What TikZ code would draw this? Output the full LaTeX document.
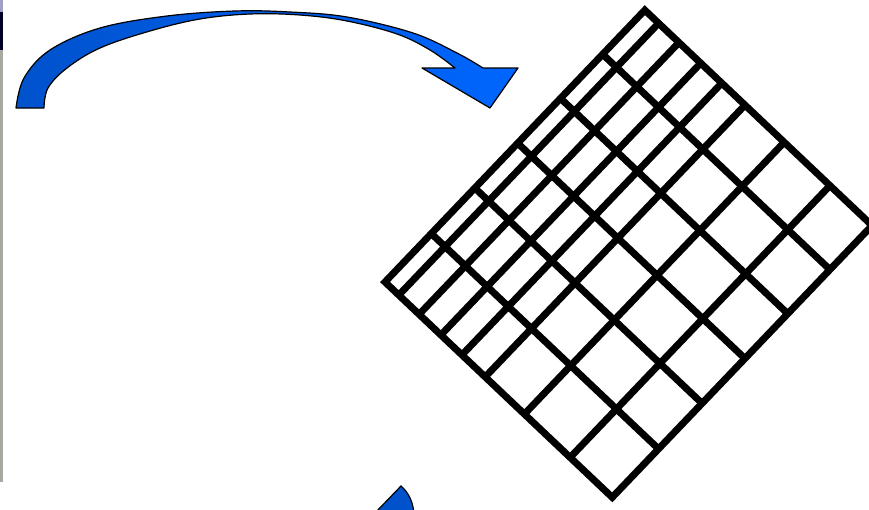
\documentclass[tikz,border=0pt]{standalone}
\usetikzlibrary{calc}
\definecolor{arrowL}{HTML}{0052CC}
\definecolor{arrowR}{HTML}{0066FF}
\definecolor{stripgray}{HTML}{A9A9A2}
\tikzset{
  gridline/.style={line width=7pt, black},
  gridframe/.style={line width=7pt, black, line join=miter},
  arrowbody/.style={draw=black, line width=1.2pt, line join=round},
}
\begin{document}
\begin{tikzpicture}[x=1pt,y=-1pt]
\useasboundingbox (0,0) rectangle (869,509);
\fill[white] (0,0) rectangle (869,509);
% left screenshot strip
\fill[stripgray] (0,0) rectangle (3,482);
\fill[black!85!blue] (0,12) rectangle (3,50);
\fill[blue!25!gray!60] (0,0) rectangle (3,12);

% rotated grid
\begin{scope}[shift={(385,282)}, x={(0.691pt,0.723pt)}, y={(0.726pt,-0.688pt)}]
  \coordinate (L) at (0,0);
  \coordinate (T) at (376,0);
  \coordinate (R) at (376,313);
  \coordinate (B) at (0,313);
  \foreach \a in {67,130,192,254,315}
    \draw[gridline] (\a,0) -- (\a,313);
  \foreach \b in {19,47,77,106,138,192,255}
    \draw[gridline] (0,\b) -- (376,\b);
  \draw[gridframe] (L) -- (T) -- (R) -- (B) -- cycle;
\end{scope}

% top curved arrow
\shade[left color=arrowL, right color=arrowR, arrowbody]
  (16,108) -- plot[smooth, tension=0.6] coordinates {(16,108) (24,78) (50,50) (100,28) (167,16) (235,11) (290,12) (347,17) (413,33) (457,53) (483,68)}
  -- (518,68) -- (490,108) -- (422,68) -- (455,68)
  -- plot[smooth, tension=0.6] coordinates {(455,68) (430,50) (397,34) (347,21) (300,15) (250,14) (200,19) (150,31) (100,48) (67,68) (48,88) (44,108)}
  -- cycle;

% bottom partial arrow
\fill[arrowL, draw=black, line width=1.2pt]
  (374,514) -- (401,486) .. controls (409,493) and (413,502) .. (414,514) -- cycle;
\end{tikzpicture}
\end{document}
